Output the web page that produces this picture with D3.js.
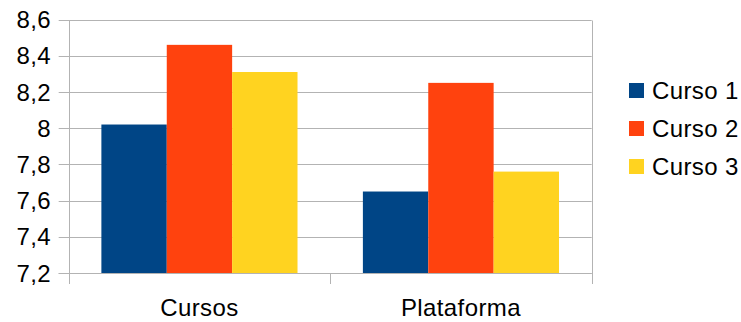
<!DOCTYPE html>
<html>
<head>
<meta charset="utf-8">
<script src="https://cdn.jsdelivr.net/npm/d3@7"></script>
<style>
  html, body { margin: 0; padding: 0; background: #fff; }
  text { font-family: "Liberation Sans", Arial, sans-serif; fill: #000; letter-spacing: 0.4px; }
</style>
</head>
<body>
<svg id="chart" width="741" height="322"></svg>
<script>
// Grouped bar chart data
const categories = ["Cursos", "Plataforma"];
const seriesNames = ["Curso 1", "Curso 2", "Curso 3"];
const curso1 = [8.02, 7.65];
const curso2 = [8.46, 8.25];
const curso3 = [8.31, 7.76];
const seriesValues = [curso1, curso2, curso3];
const yTicks = [7.2, 7.4, 7.6, 7.8, 8.0, 8.2, 8.4, 8.6];
const colors = ["#004586", "#ff420e", "#ffd320"];

const svg = d3.select("#chart");
const plotLeft = 68.7, plotRight = 591.7, plotTop = 19.5, plotBottom = 273;
const gridColor = "#b3b3b3";
const fontSize = 24;

const x0 = d3.scaleBand().domain(categories).range([plotLeft, plotRight]).padding(0);
// bars take up the middle 75% of each category band
const x1 = d3.scaleBand().domain(seriesNames)
  .range([x0.bandwidth() * 0.125, x0.bandwidth() * 0.875]).padding(0);

const y = d3.scaleLinear().domain([7.2, 8.6]).range([plotBottom, plotTop]);
const fmt = v => (Math.round(v * 10) / 10).toString().replace(".", ",");

// horizontal grid lines with outside ticks
svg.append("g").selectAll("line").data(yTicks).join("line")
  .attr("x1", plotLeft - 10).attr("x2", plotRight)
  .attr("y1", d => Math.round(y(d)) + 0.5).attr("y2", d => Math.round(y(d)) + 0.5)
  .attr("stroke", gridColor).attr("stroke-width", 1);

// right border
svg.append("line")
  .attr("x1", Math.round(plotRight) + 0.5).attr("x2", Math.round(plotRight) + 0.5)
  .attr("y1", Math.round(y(8.6)) + 0.5).attr("y2", plotBottom)
  .attr("stroke", gridColor);

// y tick labels
svg.append("g").selectAll("text").data(yTicks).join("text")
  .attr("x", 51).attr("y", d => y(d))
  .attr("dy", "0.36em")
  .attr("text-anchor", "end")
  .attr("font-size", fontSize)
  .text(fmt);

// bars
const groups = svg.append("g").selectAll("g").data(categories).join("g")
  .attr("transform", c => `translate(${x0(c)},0)`);
groups.selectAll("rect")
  .data((c, i) => seriesNames.map((s, j) => ({ s, v: seriesValues[j][i], j })))
  .join("rect")
  .attr("x", d => x1(d.s))
  .attr("width", x1.bandwidth())
  .attr("y", d => y(d.v))
  .attr("height", d => y(7.2) - y(d.v))
  .attr("fill", d => colors[d.j]);

// baseline and category axis ticks
svg.append("line")
  .attr("x1", plotLeft - 10).attr("x2", plotRight)
  .attr("y1", Math.round(plotBottom) + 0.5).attr("y2", Math.round(plotBottom) + 0.5)
  .attr("stroke", gridColor);
const catTicks = [plotLeft, ...categories.map(c => x0(c) + x0.bandwidth())];
svg.append("g").selectAll("line").data(catTicks).join("line")
  .attr("x1", d => Math.round(d) + 0.5).attr("x2", d => Math.round(d) + 0.5)
  .attr("y1", d => d === plotLeft ? Math.round(plotTop) + 0.5 : plotBottom).attr("y2", 284)
  .attr("stroke", gridColor);

// category labels
svg.append("g").selectAll("text").data(categories).join("text")
  .attr("x", c => x0(c) + x0.bandwidth() / 2)
  .attr("y", 316)
  .attr("text-anchor", "middle")
  .attr("font-size", fontSize)
  .text(c => c);

// legend
const legend = svg.append("g").selectAll("g").data(seriesNames).join("g")
  .attr("transform", (d, i) => `translate(629,${83 + i * 38})`);
legend.append("rect").attr("width", 15).attr("height", 15).attr("fill", (d, i) => colors[i]);
legend.append("text").attr("x", 23).attr("y", 7.5).attr("dy", "0.36em")
  .attr("font-size", fontSize).text(d => d);
</script>
</body>
</html>
